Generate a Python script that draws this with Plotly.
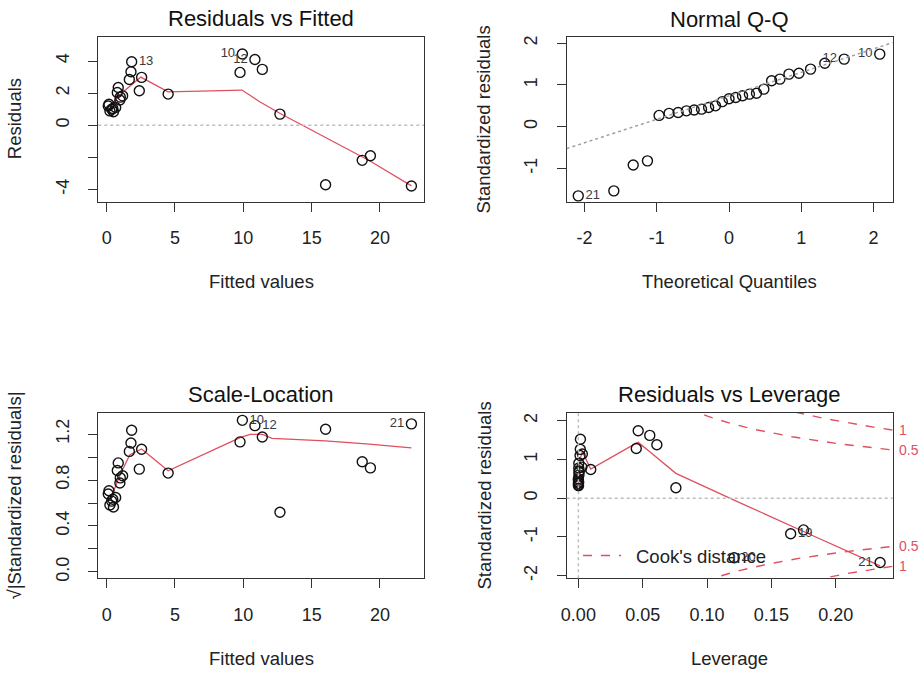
import numpy as np
import plotly.graph_objects as go

# ---------------- data ----------------
obs_id = list(range(1, 28))
fitted = [0.24, 0.37, 0.45, 0.50, 0.17, 0.12, 0.66, 0.78, 0.85, 9.93, 9.76, 10.85, 1.83, 1.78,
          1.66, 2.56, 2.39, 19.3, 18.7, 16.02, 22.3, 4.50, 11.39, 12.68, 0.97, 1.00, 1.17]
resid = [0.89, 0.99, 1.04, 0.84, 1.31, 1.20, 1.10, 2.04, 2.35, 4.44, 3.29, 4.10, 3.96, 3.33,
         2.85, 2.98, 2.15, -1.90, -2.19, -3.71, -3.79, 1.94, 3.48, 0.69, 1.57, 1.75, 1.83]
std_resid = [0.34, 0.38, 0.40, 0.32, 0.50, 0.46, 0.42, 0.78, 0.90, 1.74, 1.28, 1.62, 1.52, 1.26,
             1.10, 1.14, 0.80, -0.82, -0.92, -1.54, -1.66, 0.74, 1.38, 0.27, 0.60, 0.67, 0.70]
leverage = [0.00003, 0.00007, 0.0001, 0.00012, 0.00001, 0.00001, 0.0002, 0.0003, 0.00034, 0.0465,
            0.045, 0.0555, 0.0016, 0.0015, 0.0013, 0.0031, 0.0027, 0.175, 0.165, 0.121, 0.2345,
            0.0096, 0.061, 0.0758, 0.00044, 0.00047, 0.00065]
qq_theoretical = [-2.085, -1.593, -1.325, -1.128, -0.967, -0.829, -0.704, -0.589, -0.482, -0.380,
                  -0.282, -0.187, -0.093, 0.0, 0.093, 0.187, 0.282, 0.380, 0.482, 0.589, 0.704,
                  0.829, 0.967, 1.128, 1.325, 1.593, 2.085]

smooth_rf_x = [0.12, 1.22, 2.5, 4.5, 9.9, 11.2, 12.7, 16.0, 18.7, 19.3, 22.3]
smooth_rf_y = [1.1, 2.08, 3.0, 2.08, 2.19, 1.46, 0.73, -0.78, -1.98, -2.25, -3.78]
smooth_sl_x = [0.12, 0.5, 1.0, 1.7, 2.56, 4.5, 9.8, 10.5, 11.4, 12.1, 16.0, 19.0, 22.3]
smooth_sl_y = [0.62, 0.70, 0.85, 1.02, 1.07, 0.88, 1.17, 1.197, 1.197, 1.163, 1.14, 1.115, 1.08]
smooth_rl_x = [0.00001, 0.0005, 0.0013, 0.0031, 0.0096, 0.045, 0.0465, 0.0555, 0.061, 0.0758,
               0.121, 0.165, 0.175, 0.2345]
smooth_rl_y = [0.35, 0.7, 1.0, 1.2, 0.75, 1.42, 1.44, 1.2, 1.05, 0.64, -0.05, -0.72, -0.86, -1.75]

labels_rf = {13: "middle right", 10: "middle left", 12: "middle left"}
labels_qq = {21: "middle right", 12: "middle left", 10: "middle left"}
labels_sl = {10: "middle right", 12: "middle right", 21: "middle left"}
labels_rl = {20: "middle right", 19: "middle right", 21: "middle left"}

cook_levels = [0.5, 1.0]
cook_level_text = ["0.5", "1"]
n_params = 1

titles = ["Residuals vs Fitted", "Normal Q-Q", "Scale-Location", "Residuals vs Leverage"]
x_titles = ["Fitted values", "Theoretical Quantiles", "Fitted values", "Leverage"]
y_titles = ["Residuals", "Standardized residuals", "\u221a|Standardized residuals|",
            "Standardized residuals"]

# ---------------- layout helpers ----------------
W, H = 919, 674
RED = "#DF4F5F"
INK = "#111111"
GRAY = "#BEBEBE"
FONT = "Liberation Sans, Arial, sans-serif"


def fx(px):
    return px / W


def fy(py):
    return 1 - py / H


boxes = {  # left, right, top, bottom in pixels
    1: (98.3, 424.0, 36.7, 201.7),
    2: (566.7, 892.7, 37.3, 201.7),
    3: (98.3, 424.0, 412.7, 578.3),
    4: (566.7, 892.7, 412.7, 578.3),
}
xranges = {1: [-0.61, 23.22], 2: [-2.245, 2.264], 3: [-0.61, 23.22], 4: [-0.00907, 0.2443]}
yranges = {1: [-4.769, 5.517], 2: [-1.80, 2.144], 3: [-0.055, 1.3855], 4: [-2.069, 2.206]}


def ids_text(ids, lab):
    text = [str(i) if i in lab else "" for i in ids]
    pos = [lab.get(i, "middle right") for i in ids]
    return text, pos


fig = go.Figure()


def pts(k, x, y, ids, lab):
    text, pos = ids_text(ids, lab)
    fig.add_trace(go.Scatter(
        x=x, y=y, mode="markers+text", text=text, textposition=pos,
        textfont=dict(size=13, color="#3a3a3a", family=FONT),
        marker=dict(symbol="circle-open", size=10, color=INK, line=dict(width=1.4, color=INK)),
        xaxis=f"x{k if k > 1 else ''}", yaxis=f"y{k if k > 1 else ''}",
        showlegend=False, hoverinfo="skip", cliponaxis=False))


def line(k, x, y, color=RED, dash="solid", width=1.3):
    fig.add_trace(go.Scatter(
        x=x, y=y, mode="lines", line=dict(color=color, dash=dash, width=width),
        xaxis=f"x{k if k > 1 else ''}", yaxis=f"y{k if k > 1 else ''}",
        showlegend=False, hoverinfo="skip"))


# Panel 1: Residuals vs Fitted
line(1, smooth_rf_x, smooth_rf_y)
pts(1, fitted, resid, obs_id, labels_rf)

# Panel 2: Normal Q-Q
order = np.argsort(std_resid)
qq_y = [std_resid[i] for i in order]
qq_ids = [obs_id[i] for i in order]
q25, q75 = np.quantile(std_resid, [0.25, 0.75])
z75 = 0.6744898
slope = (q75 - q25) / (2 * z75)
intercept = (q25 + q75) / 2
pts(2, qq_theoretical, qq_y, qq_ids, labels_qq)

# Panel 3: Scale-Location
sl_y = [float(np.sqrt(abs(v))) for v in std_resid]
line(3, smooth_sl_x, smooth_sl_y)
pts(3, fitted, sl_y, obs_id, labels_sl)

# Panel 4: Residuals vs Leverage
hh = np.linspace(0.002, xranges[4][1], 400)
for c in cook_levels:
    r = np.sqrt(c * n_params * (1 - hh) / hh)
    line(4, hh, r, dash="dash", width=1.4)
    line(4, hh, -r, dash="dash", width=1.4)
line(4, smooth_rl_x, smooth_rl_y)
pts(4, leverage, std_resid, obs_id, labels_rl)

# ---------------- axes ----------------
xticks = {1: [0, 5, 10, 15, 20], 2: [-2, -1, 0, 1, 2], 3: [0, 5, 10, 15, 20],
          4: [0.0, 0.05, 0.10, 0.15, 0.20]}
xticktext = {1: ["0", "5", "10", "15", "20"], 2: ["-2", "-1", "0", "1", "2"],
             3: ["0", "5", "10", "15", "20"], 4: ["0.00", "0.05", "0.10", "0.15", "0.20"]}
yticks = {1: [-4, -2, 0, 2, 4], 2: [-1, 0, 1, 2], 3: [0, 0.2, 0.4, 0.6, 0.8, 1.0, 1.2],
          4: [-2, -1, 0, 1, 2]}
yticktext = {1: ["-4", "", "0", "2", "4"], 2: ["-1", "0", "1", "2"],
             3: ["0.0", "", "0.4", "", "0.8", "", "1.2"], 4: ["-2", "-1", "0", "1", "2"]}

layout = dict(width=W, height=H, margin=dict(l=0, r=0, t=0, b=0), template="none",
              paper_bgcolor="white", plot_bgcolor="white", showlegend=False,
              font=dict(family=FONT, color=INK))
for k in range(1, 5):
    l, r, t, b = boxes[k]
    suf = "" if k == 1 else str(k)
    common = dict(showline=True, mirror=True, linecolor="#333333", linewidth=1.2,
                  ticks="outside", ticklen=9, tickwidth=1.2, tickcolor="#333333",
                  showgrid=False, zeroline=False, fixedrange=True,
                  tickfont=dict(size=18, color="#222222", family=FONT))
    layout[f"xaxis{suf}"] = dict(domain=[fx(l), fx(r)], range=xranges[k], anchor=f"y{suf}",
                                 tickvals=xticks[k], ticktext=xticktext[k],
                                 ticklabelstandoff=11, **common)
    layout[f"yaxis{suf}"] = dict(domain=[fy(b), fy(t)], range=yranges[k], anchor=f"x{suf}",
                                 tickvals=yticks[k], ticktext=yticktext[k], tickangle=-90,
                                 ticklabelstandoff=12, **common)
fig.update_layout(**layout)

ann = []
shapes = []
for k in range(1, 5):
    l, r, t, b = boxes[k]
    cx = (l + r) / 2
    cy = (t + b) / 2
    ann.append(dict(text=titles[k - 1], x=fx(cx), y=fy(t - 18), xref="paper", yref="paper",
                    showarrow=False, font=dict(size=22, color="#111111", family=FONT),
                    xanchor="center", yanchor="middle"))
    ann.append(dict(text=x_titles[k - 1], x=fx(cx), y=fy(b + 80), xref="paper", yref="paper",
                    showarrow=False, font=dict(size=18.5, color="#222222", family=FONT),
                    xanchor="center", yanchor="middle"))
    ylx = {1: 14, 2: 483, 3: 14, 4: 484}[k]
    ann.append(dict(text=y_titles[k - 1], x=fx(ylx), y=fy(cy), xref="paper", yref="paper",
                    showarrow=False, textangle=-90,
                    font=dict(size=18.5, color="#222222", family=FONT),
                    xanchor="center", yanchor="middle"))

# reference lines
shapes.append(dict(type="line", xref="x domain", yref="y", x0=0, x1=1, y0=0, y1=0,
                   line=dict(color=GRAY, dash="dot", width=1.5)))
shapes.append(dict(type="line", xref="x2", yref="y2",
                   x0=xranges[2][0], x1=xranges[2][1],
                   y0=intercept + slope * xranges[2][0], y1=intercept + slope * xranges[2][1],
                   line=dict(color="#A0A0A0", dash="dot", width=1.5)))
shapes.append(dict(type="line", xref="x4 domain", yref="y4", x0=0, x1=1, y0=0, y1=0,
                   line=dict(color=GRAY, dash="dot", width=1.5)))
shapes.append(dict(type="line", xref="x4", yref="y4 domain", x0=0, x1=0, y0=0, y1=1,
                   line=dict(color=GRAY, dash="dot", width=1.5)))

# Cook's distance legend
shapes.append(dict(type="line", xref="paper", yref="paper", x0=fx(583), x1=fx(621),
                   y0=fy(555.5), y1=fy(555.5), line=dict(color=RED, dash="dash", width=1.4)))
ann.append(dict(text="Cook's distance", x=fx(634), y=fy(556), xref="paper", yref="paper",
                showarrow=False, xanchor="left", yanchor="middle",
                font=dict(size=18.5, color="#222222", family=FONT)))

# contour level labels in the right margin
hmax = xranges[4][1]
for c, txt in zip(cook_levels, cook_level_text):
    yv = float(np.sqrt(c * n_params * (1 - hmax) / hmax))
    for sgn in (1, -1):
        ann.append(dict(text=txt, x=fx(897), y=sgn * yv, xref="paper", yref="y4",
                        showarrow=False, xanchor="left", yanchor="middle",
                        font=dict(size=14, color=RED, family=FONT)))

fig.update_layout(annotations=ann, shapes=shapes)
fig.write_html("out.html", config={"displayModeBar": False},
               post_script="document.body.style.margin='0';")
